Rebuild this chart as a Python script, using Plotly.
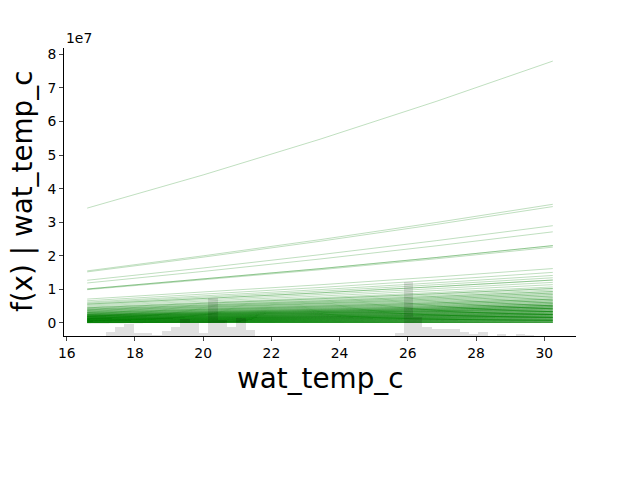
import numpy as np
import plotly.graph_objects as go

# ---------------- data ----------------
# ICE curves for wat_temp_c, values in units of 1e7, at five grid points
grid_x = [16.6, 20.0125, 23.425, 26.8375, 30.25]
ice_v0 = [0.01, 0.03, 0.05, 0.07, 0.09, 0.11, 0.13, 0.15, 0.17, 0.19,
          0.21, 0.23, 0.25, 0.27, 0.29, 0.31, 0.33, 0.35, 0.37, 0.39,
          0.41, 0.43, 0.45, 0.47, 0.50, 0.53, 0.56, 0.59, 0.62, 0.66,
          0.71, 0.99, 1.01, 1.19, 1.27, 1.52, 1.55, 3.42]
ice_v1 = [0.013, 0.039, 0.065, 0.090, 0.116, 0.142, 0.168, 0.194, 0.219, 0.245,
          0.271, 0.297, 0.323, 0.348, 0.374, 0.400, 0.426, 0.452, 0.477, 0.503,
          0.529, 0.555, 0.581, 0.606, 0.645, 0.684, 0.722, 0.761, 0.800, 0.851,
          0.916, 1.277, 1.303, 1.535, 1.638, 1.961, 2.000, 4.412]
ice_v2 = [0.016, 0.048, 0.080, 0.112, 0.144, 0.176, 0.208, 0.240, 0.272, 0.304,
          0.336, 0.368, 0.400, 0.432, 0.464, 0.496, 0.528, 0.560, 0.592, 0.624,
          0.656, 0.688, 0.720, 0.752, 0.800, 0.848, 0.896, 0.944, 0.992, 1.056,
          1.136, 1.584, 1.616, 1.904, 2.032, 2.432, 2.480, 5.472]
ice_v3 = [0.019, 0.058, 0.097, 0.135, 0.174, 0.212, 0.251, 0.290, 0.328, 0.367,
          0.405, 0.444, 0.483, 0.521, 0.560, 0.598, 0.637, 0.676, 0.714, 0.753,
          0.791, 0.830, 0.869, 0.907, 0.965, 1.023, 1.081, 1.139, 1.197, 1.274,
          1.370, 1.911, 1.949, 2.297, 2.451, 2.934, 2.992, 6.601]
ice_v4 = [0.023, 0.068, 0.114, 0.160, 0.205, 0.251, 0.296, 0.342, 0.388, 0.433,
          0.479, 0.524, 0.570, 0.616, 0.661, 0.707, 0.752, 0.798, 0.844, 0.889,
          0.935, 0.980, 1.026, 1.072, 1.140, 1.208, 1.277, 1.345, 1.414, 1.505,
          1.619, 2.257, 2.303, 2.713, 2.896, 3.466, 3.534, 7.800]
# number of sample rows sharing (almost) the same curve
ice_rows = [8, 8, 8, 8, 8, 8, 7, 7, 6, 6,
            6, 5, 4, 3, 3, 3, 2, 2, 2, 2,
            2, 1, 2, 1, 1, 1, 2, 1, 1, 1,
            1, 1, 2, 1, 1, 1, 1, 1]

# histogram of wat_temp_c (50 bins over the grid range)
hist_range = [16.6, 30.25]
hist_counts = [0, 0, 4, 9, 12, 3, 3, 1, 5, 9,
               17, 13, 3, 38, 16, 9, 18, 6, 0, 0,
               0, 0, 0, 0, 0, 0, 0, 0, 0, 0,
               0, 0, 0, 3, 54, 19, 9, 7, 7, 7,
               4, 2, 4, 0, 2, 0, 2, 1, 0, 0]

x_ticks = [16, 18, 20, 22, 24, 26, 28, 30]
y_ticks = [0, 1, 2, 3, 4, 5, 6, 7, 8]

# ---------------- figure ----------------
FONT = "DejaVu Sans"
fig = go.Figure()

for a, b, c, d, e, n in zip(ice_v0, ice_v1, ice_v2, ice_v3, ice_v4, ice_rows):
    for _ in range(n):
        fig.add_trace(go.Scatter(
            x=grid_x, y=[a, b, c, d, e], mode="lines",
            line=dict(color="rgba(0,128,0,0.25)", width=1),
            hoverinfo="skip", showlegend=False))

nb = len(hist_counts)
edges = np.linspace(hist_range[0], hist_range[1], nb + 1)
centers = (edges[:-1] + edges[1:]) / 2
fig.add_trace(go.Bar(
    x=centers, y=hist_counts, width=edges[1] - edges[0],
    marker=dict(color="rgba(0,0,0,0.12)", line=dict(width=0)),
    yaxis="y2", showlegend=False, hoverinfo="skip"))

fig.update_layout(
    width=640, height=480,
    margin=dict(l=64, r=64, t=48, b=144),
    paper_bgcolor="white", plot_bgcolor="white",
    font=dict(family=FONT, color="black", size=13.9),
    bargap=0,
    xaxis=dict(range=[15.92, 30.93], tickvals=x_ticks, ticks="outside",
               ticklen=4, tickwidth=1, showline=True, linecolor="black",
               linewidth=1, showgrid=False, zeroline=False,
               tickfont=dict(size=13.9, family=FONT)),
    yaxis=dict(range=[-0.39, 8.19], tickvals=y_ticks, ticks="outside",
               ticklen=4, tickwidth=1, showline=True, linecolor="black",
               linewidth=1, showgrid=False, zeroline=False,
               tickfont=dict(size=13.9, family=FONT)),
    yaxis2=dict(overlaying="y", range=[0, 288], visible=False,
                showgrid=False, zeroline=False),
    annotations=[
        dict(text="wat_temp_c", xref="paper", yref="paper", x=0.5, y=-0.146,
             xanchor="center", yanchor="middle", showarrow=False, borderpad=0,
             font=dict(size=27.8, family=FONT)),
        dict(text="f(x) | wat_temp_c", xref="paper", yref="paper", x=-0.082,
             y=0.5, xanchor="center", yanchor="middle", textangle=-90,
             showarrow=False, borderpad=0, font=dict(size=27.8, family=FONT)),
        dict(text="1e7", xref="paper", yref="paper", x=0.0, y=1.0,
             xanchor="left", yanchor="bottom", showarrow=False,
             font=dict(size=13.9, family=FONT)),
    ],
)

fig.write_html("out.html")
